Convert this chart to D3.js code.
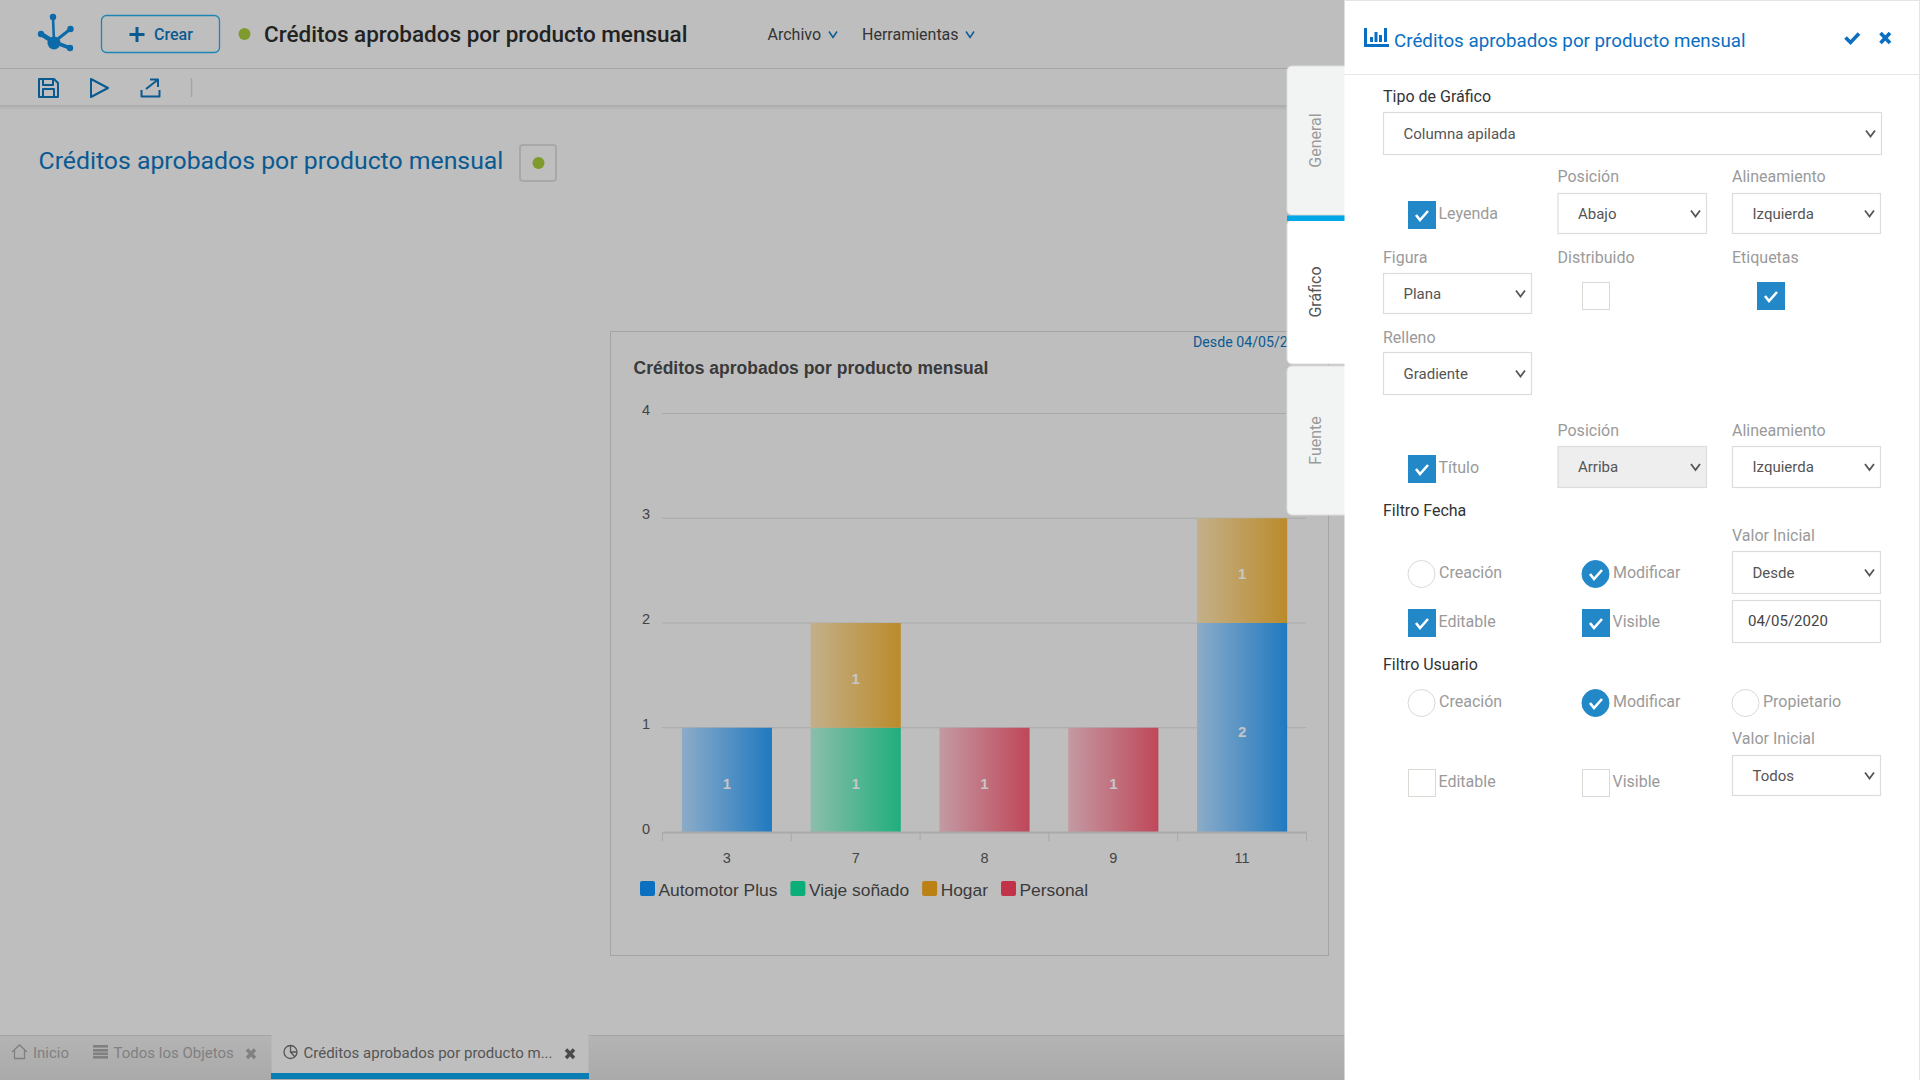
<!DOCTYPE html>
<html>
<head>
<meta charset="utf-8">
<title>Créditos aprobados por producto mensual</title>
<script src="https://cdn.jsdelivr.net/npm/d3@7"></script>
<style>
  html, body { margin: 0; padding: 0; background: #bebebe; overflow: hidden; }
  svg { display: block; }
  .ui { font-family: Roboto, sans-serif; }
  .chart { font-family: "Liberation Sans", Arial, sans-serif; }
</style>
</head>
<body>
<svg id="page" width="1920" height="1080"></svg>
<script>
var chartTitle = "Créditos aprobados por producto mensual";
var categories = ["3", "7", "8", "9", "11"];
var seriesNames = ["Automotor Plus", "Viaje soñado", "Hogar", "Personal"];
var automotorPlus = [1, 0, 0, 0, 2];
var viajeSonado = [0, 1, 0, 0, 0];
var hogar = [0, 1, 0, 0, 1];
var personal = [0, 0, 1, 1, 0];
var yTicks = [0, 1, 2, 3, 4];
var legendColors = ["#0b70c0", "#0bae78", "#bb8114", "#c23249"];
var barColors = ["#2079c0", "#20ae7c", "#bb8b2b", "#bf4759"];
var barPale = ["#8cacc8", "#8cbeab", "#c3b08a", "#c39aa3"];

var svg = d3.select("#page");
var defs = svg.append("defs");

// background of the dimmed page
svg.append("rect").attr("width", 1920).attr("height", 1080).attr("fill", "#bebebe");

function text(parent, x, y, str, size, color, opts) {
    opts = opts || {};
    return parent.append("text")
        .attr("class", opts.cls || "ui")
        .attr("x", x)
        .attr("y", y)
        .attr("dy", "0.35em")
        .attr("font-size", size)
        .attr("font-weight", opts.weight || 400)
        .attr("text-anchor", opts.anchor || "start")
        .attr("fill", color)
        .text(str);
}

function chevron(parent, cx, cy, w, h, color, sw) {
    parent.append("path")
        .attr("d", "M" + (cx - w) + " " + (cy - h) + "L" + cx + " " + (cy + h) + "L" + (cx + w) + " " + (cy - h))
        .attr("fill", "none").attr("stroke", color).attr("stroke-width", sw);
}

/* ---------- top bars ---------- */
var topBar = svg.append("g");
topBar.append("line").attr("x1", 0).attr("x2", 1345).attr("y1", 68.5).attr("y2", 68.5).attr("stroke", "#a6a6a6");

var shadow = defs.append("linearGradient").attr("id", "toolbarShadow").attr("x1", 0).attr("x2", 0).attr("y1", 0).attr("y2", 1);
shadow.append("stop").attr("offset", 0).attr("stop-color", "#aaaaaa");
shadow.append("stop").attr("offset", 1).attr("stop-color", "#bebebe");
topBar.append("rect").attr("x", 0).attr("y", 105).attr("width", 1345).attr("height", 5).attr("fill", "url(#toolbarShadow)");

// logo
var logo = topBar.append("g").attr("fill", "#0c6aa8").attr("stroke", "#0c6aa8").attr("stroke-linecap", "round");
[[53, 17, 2.6], [70.5, 29, 3], [41, 34, 4.5], [70, 48, 4]].forEach(function (n) {
    logo.append("line").attr("x1", 54).attr("y1", 42).attr("x2", n[0]).attr("y2", n[1]).attr("stroke-width", n[2]);
    logo.append("circle").attr("cx", n[0]).attr("cy", n[1]).attr("r", 3.2).attr("stroke", "none");
});
logo.append("circle").attr("cx", 54).attr("cy", 43).attr("r", 6.5).attr("stroke", "none");

// Crear button
topBar.append("rect").attr("x", 101.5).attr("y", 15.5).attr("width", 118).attr("height", 37).attr("rx", 5)
    .attr("fill", "none").attr("stroke", "#1c86b4").attr("stroke-width", 1.3);
topBar.append("path").attr("d", "M137 27V42M129.5 34.5H144.5").attr("stroke", "#0a5a92").attr("stroke-width", 3).attr("fill", "none");
text(topBar, 154, 34, "Crear", 16, "#0a5a92", {weight: 500});

topBar.append("circle").attr("cx", 244.5).attr("cy", 34).attr("r", 6).attr("fill", "#7f9a2d");
text(topBar, 264, 34, chartTitle, 22.5, "#222222", {weight: 500});

text(topBar, 767.5, 34, "Archivo", 16, "#333333");
chevron(topBar, 833, 34.5, 4, 3, "#0a5a92", 1.5);
text(topBar, 862, 34, "Herramientas", 16, "#333333");
chevron(topBar, 970, 34.5, 4, 3, "#0a5a92", 1.5);

// toolbar icons
var tools = topBar.append("g").attr("fill", "none").attr("stroke", "#0a5a92").attr("stroke-width", 2).attr("stroke-linejoin", "round");
tools.append("path").attr("d", "M39 79H54L58 83V97H39Z");
tools.append("path").attr("d", "M43 79V85H53V79M43 97V89H54V97");
tools.append("path").attr("d", "M91 79L108 88L91 97Z");
tools.append("path").attr("d", "M141.5 90V96.5H159.5V90M146 89L157.5 80M150 79.5H158V87");
topBar.append("line").attr("x1", 191.5).attr("x2", 191.5).attr("y1", 78).attr("y2", 97).attr("stroke", "#a6a6a6").attr("stroke-width", 1.5);

// heading
text(topBar, 38.5, 160, chartTitle, 24.8, "#0a5a92");
topBar.append("rect").attr("x", 520).attr("y", 145).attr("width", 36).attr("height", 36).attr("rx", 3)
    .attr("fill", "none").attr("stroke", "#a8a8a8").attr("stroke-width", 2);
topBar.append("circle").attr("cx", 538.5).attr("cy", 163).attr("r", 6).attr("fill", "#7f9a2d");

/* ---------- chart ---------- */
var chart = svg.append("g");
chart.append("rect").attr("x", 610.5).attr("y", 331.5).attr("width", 718).attr("height", 624)
    .attr("fill", "#bebebe").attr("stroke", "#a4a4a4");

text(chart, 633.5, 368, chartTitle, 17.5, "#3a3a3a", {cls: "chart", weight: 700});
text(chart, 1193, 342, "Desde 04/05/2020", 14.2, "#0a5a92");

var x = d3.scaleBand().domain(categories).range([662.5, 1306.5]).paddingInner(0.3).paddingOuter(0.15);
var y = d3.scaleLinear().domain([0, 4]).range([832.5, 413.5]);

chart.selectAll(".grid").data(yTicks.slice(1)).enter().append("line")
    .attr("class", "grid")
    .attr("x1", 662).attr("x2", 1306)
    .attr("y1", function (d) { return y(d); })
    .attr("y2", function (d) { return y(d); })
    .attr("stroke", "#a9a9a9").attr("stroke-width", 1.2);

chart.selectAll(".ytick").data(yTicks).enter().append("text")
    .attr("class", "ytick chart")
    .attr("x", 646).attr("y", function (d) { return y(d) - 4; })
    .attr("dy", "0.35em").attr("text-anchor", "middle")
    .attr("font-size", 14.5).attr("fill", "#444444")
    .text(function (d) { return d; });

var rows = categories.map(function (c, i) {
    return { cat: c, a: automotorPlus[i], v: viajeSonado[i], h: hogar[i], p: personal[i] };
});
var stacked = d3.stack().keys(["a", "v", "h", "p"])(rows);

seriesNames.forEach(function (name, i) {
    var g = defs.append("linearGradient").attr("id", "fill" + i).attr("x1", 0).attr("x2", 1).attr("y1", 0).attr("y2", 0);
    g.append("stop").attr("offset", 0).attr("stop-color", barPale[i]);
    g.append("stop").attr("offset", 1).attr("stop-color", barColors[i]);
});

var layers = chart.selectAll(".layer").data(stacked).enter().append("g")
    .attr("class", "layer")
    .attr("fill", function (d, i) { return "url(#fill" + i + ")"; });

layers.selectAll("rect")
    .data(function (d) { return d.filter(function (s) { return s[1] > s[0]; }); })
    .enter().append("rect")
    .attr("x", function (d) { return x(d.data.cat); })
    .attr("y", function (d) { return y(d[1]); })
    .attr("width", x.bandwidth())
    .attr("height", function (d) { return y(d[0]) - y(d[1]); });

layers.selectAll("text")
    .data(function (d) { return d.filter(function (s) { return s[1] > s[0]; }); })
    .enter().append("text")
    .attr("class", "chart")
    .attr("x", function (d) { return x(d.data.cat) + x.bandwidth() / 2; })
    .attr("y", function (d) { return (y(d[0]) + y(d[1])) / 2 + 3.5; })
    .attr("dy", "0.35em").attr("text-anchor", "middle")
    .attr("font-size", 15).attr("font-weight", 700).attr("fill", "#c6c6c6")
    .text(function (d) { return d[1] - d[0]; });

// x axis, ticks sit on the band edges
var axisX = d3.axisBottom(x).tickSize(0).tickPadding(21);
var axisG = chart.append("g").attr("transform", "translate(0,832)").call(axisX);
axisG.select(".domain").attr("stroke", "#a9a9a9").attr("stroke-width", 2);
axisG.selectAll("text").attr("font-size", 14.5).attr("fill", "#444444").attr("font-family", "Liberation Sans");
var edges = [662.5].concat(categories.map(function (c) { return x(c) + x.bandwidth() + x.step() * 0.15; }));
chart.selectAll(".xtick").data(edges).enter().append("line")
    .attr("class", "xtick")
    .attr("x1", function (d) { return d; }).attr("x2", function (d) { return d; })
    .attr("y1", 832).attr("y2", 841)
    .attr("stroke", "#a9a9a9");

// legend flows from left to right
var legendX = 640;
seriesNames.forEach(function (name, i) {
    chart.append("rect").attr("x", legendX).attr("y", 881).attr("width", 15).attr("height", 15).attr("rx", 2).attr("fill", legendColors[i]);
    var t = text(chart, legendX + 18.5, 890, name, 17.4, "#3a3a3a", {cls: "chart"});
    legendX += 18.5 + t.node().getComputedTextLength() + 13;
});

/* ---------- bottom tabs ---------- */
var tabs = svg.append("g");
var tabShade = defs.append("linearGradient").attr("id", "tabShade").attr("x1", 0).attr("x2", 0).attr("y1", 0).attr("y2", 1);
tabShade.append("stop").attr("offset", 0).attr("stop-color", "#b4b4b4");
tabShade.append("stop").attr("offset", 1).attr("stop-color", "#aaaaaa");
tabs.append("rect").attr("x", 0).attr("y", 1035).attr("width", 1345).attr("height", 45).attr("fill", "url(#tabShade)");
tabs.append("line").attr("x1", 0).attr("x2", 1345).attr("y1", 1035.5).attr("y2", 1035.5).attr("stroke", "#a4a4a4");
tabs.append("rect").attr("x", 271.5).attr("y", 1035).attr("width", 317).attr("height", 39).attr("fill", "#bebebe");
tabs.append("rect").attr("x", 271).attr("y", 1073).attr("width", 318).attr("height", 6).attr("fill", "#0a7db5");

var home = tabs.append("g").attr("fill", "none").attr("stroke", "#808080").attr("stroke-width", 1.3);
home.append("path").attr("d", "M12 1052L19.5 1045L27 1052M14.5 1050V1058.5H24.5V1050");
text(tabs, 33, 1053, "Inicio", 15, "#808080");
[1045, 1049, 1052.5, 1056].forEach(function (yy) {
    tabs.append("rect").attr("x", 93).attr("y", yy).attr("width", 15).attr("height", 2.6).attr("fill", "#808080");
});
text(tabs, 113.5, 1053, "Todos los Objetos", 15, "#808080");
tabs.append("path").attr("d", "M247 1049.5L255 1058M255 1049.5L247 1058").attr("stroke", "#808080").attr("stroke-width", 3.4);
var pie = tabs.append("g").attr("fill", "none").attr("stroke", "#555555").attr("stroke-width", 1.3);
pie.append("circle").attr("cx", 290.5).attr("cy", 1052).attr("r", 6.5);
pie.append("path").attr("d", "M290.5 1045.5V1052H297M290.5 1052L295 1057");
text(tabs, 303.5, 1053, "Créditos aprobados por producto m...", 15, "#555555");
tabs.append("path").attr("d", "M566 1049.5L574 1058M574 1049.5L566 1058").attr("stroke", "#4a4a4a").attr("stroke-width", 3.4);

/* ---------- side tabs ---------- */
var side = svg.append("g");
function sideTab(y0, y1, fill, label, color) {
    side.append("rect").attr("x", 1287).attr("y", y0).attr("width", 70).attr("height", y1 - y0).attr("rx", 5)
        .attr("fill", fill).attr("stroke", "#dddddd");
    var cy = (y0 + y1) / 2;
    side.append("text").attr("class", "ui")
        .attr("transform", "translate(1315," + cy + ") rotate(-90)")
        .attr("dy", "0.35em").attr("text-anchor", "middle")
        .attr("font-size", 16).attr("fill", color).text(label);
}
sideTab(66, 215, "#f2f4f4", "General", "#9a9a9a");
sideTab(220, 364, "#ffffff", "Gráfico", "#555555");
sideTab(366, 515, "#f2f4f4", "Fuente", "#9a9a9a");
side.append("rect").attr("x", 1287).attr("y", 215.5).attr("width", 58).attr("height", 5.5).attr("fill", "#00a8e8");

/* ---------- settings panel ---------- */
var panel = svg.append("g");
panel.append("rect").attr("x", 1344.5).attr("y", 0).attr("width", 575.5).attr("height", 1080).attr("fill", "#ffffff");
panel.append("line").attr("x1", 1344.5).attr("x2", 1920).attr("y1", 0.5).attr("y2", 0.5).attr("stroke", "#e4e4e4");
panel.append("line").attr("x1", 1919.5).attr("x2", 1919.5).attr("y1", 0).attr("y2", 1080).attr("stroke", "#e4e4e4");
panel.append("line").attr("x1", 1344.5).attr("x2", 1920).attr("y1", 74.5).attr("y2", 74.5).attr("stroke", "#e6e6e6");

// panel header
var hdr = panel.append("g");
hdr.append("path").attr("d", "M1365.5 28V45.5H1389").attr("fill", "none").attr("stroke", "#0a6fc2").attr("stroke-width", 3);
[[1370, 37, 3], [1374.5, 32, 3], [1379, 35, 3], [1384, 28, 3]].forEach(function (b) {
    hdr.append("rect").attr("x", b[0]).attr("y", b[1]).attr("width", b[2]).attr("height", 42 - b[1]).attr("fill", "#0a6fc2");
});
text(hdr, 1394, 40.5, chartTitle, 18.75, "#0a6fc2");
hdr.append("path").attr("d", "M1845.5 37.5L1850.5 42.5L1859 33.5").attr("fill", "none").attr("stroke", "#0a6fc2").attr("stroke-width", 3.6);
hdr.append("path").attr("d", "M1880.5 33L1890 43M1890 33L1880.5 43").attr("fill", "none").attr("stroke", "#0a6fc2").attr("stroke-width", 3.6);

function label(x0, cy, str, dark) {
    text(panel, x0, cy, str, 16, dark ? "#333333" : "#9a9a9a");
}
function select(x0, x1, y0, y1, str, fill) {
    panel.append("rect").attr("x", x0 + 0.5).attr("y", y0 + 0.5).attr("width", x1 - x0 - 1).attr("height", y1 - y0 - 1)
        .attr("fill", fill || "#ffffff").attr("stroke", "#dcdcdc").attr("stroke-width", 1.2);
    text(panel, x0 + 20.5, (y0 + y1) / 2, str, 15, "#555555");
    chevron(panel, x1 - 11.5, (y0 + y1) / 2, 4.5, 3, "#555555", 1.8);
}
function tick(x0, y0) {
    panel.append("path")
        .attr("d", "M" + (x0 + 8) + " " + (y0 + 14) + "l4 5l8 -9")
        .attr("fill", "none").attr("stroke", "#ffffff").attr("stroke-width", 2.6);
}
function check(x0, y0, on, str) {
    panel.append("rect").attr("x", x0 + 0.5).attr("y", y0 + 0.5).attr("width", 27).attr("height", 27)
        .attr("fill", on ? "#2388c8" : "#ffffff").attr("stroke", on ? "#2388c8" : "#dcd9d4");
    if (on) tick(x0, y0);
    if (str) text(panel, x0 + 30.5, y0 + 12, str, 16, "#9a9a9a");
}
function radio(x0, y0, on, str) {
    panel.append("circle").attr("cx", x0 + 13.5).attr("cy", y0 + 14).attr("r", 13.5)
        .attr("fill", on ? "#2388c8" : "#ffffff").attr("stroke", on ? "#2388c8" : "#dcd9d4");
    if (on) tick(x0, y0);
    text(panel, x0 + 31, y0 + 12, str, 16, "#9a9a9a");
}

label(1383, 96, "Tipo de Gráfico", true);
select(1383, 1882, 112, 155, "Columna apilada");

label(1557.5, 176, "Posición");
label(1732, 176, "Alineamiento");
check(1408, 201, true, "Leyenda");
select(1557.5, 1707, 193, 234, "Abajo");
select(1732, 1881, 193, 234, "Izquierda");

label(1383, 257, "Figura");
label(1557.5, 257, "Distribuido");
label(1732, 257, "Etiquetas");
select(1383, 1532, 273, 314, "Plana");
check(1582, 282, false);
check(1757, 282, true);

label(1383, 337, "Relleno");
select(1383, 1532, 352, 395, "Gradiente");

label(1557.5, 430, "Posición");
label(1732, 430, "Alineamiento");
check(1408, 455, true, "Título");
select(1557.5, 1707, 446, 488, "Arriba", "#eeeeee");
select(1732, 1881, 446, 488, "Izquierda");

label(1383, 510, "Filtro Fecha", true);
label(1732, 535, "Valor Inicial");
radio(1408, 560, false, "Creación");
radio(1582, 560, true, "Modificar");
select(1732, 1881, 551, 594, "Desde");
check(1408, 609, true, "Editable");
check(1582, 609, true, "Visible");
panel.append("rect").attr("x", 1732.5).attr("y", 600.5).attr("width", 148).attr("height", 42)
    .attr("fill", "#ffffff").attr("stroke", "#dcdcdc").attr("stroke-width", 1.2);
text(panel, 1748, 621, "04/05/2020", 15, "#444444");

label(1383, 664, "Filtro Usuario", true);
radio(1408, 689, false, "Creación");
radio(1582, 689, true, "Modificar");
radio(1732, 689, false, "Propietario");
label(1732, 738, "Valor Inicial");
select(1732, 1881, 755, 796, "Todos");
check(1408, 769, false, "Editable");
check(1582, 769, false, "Visible");
</script>
</body>
</html>
